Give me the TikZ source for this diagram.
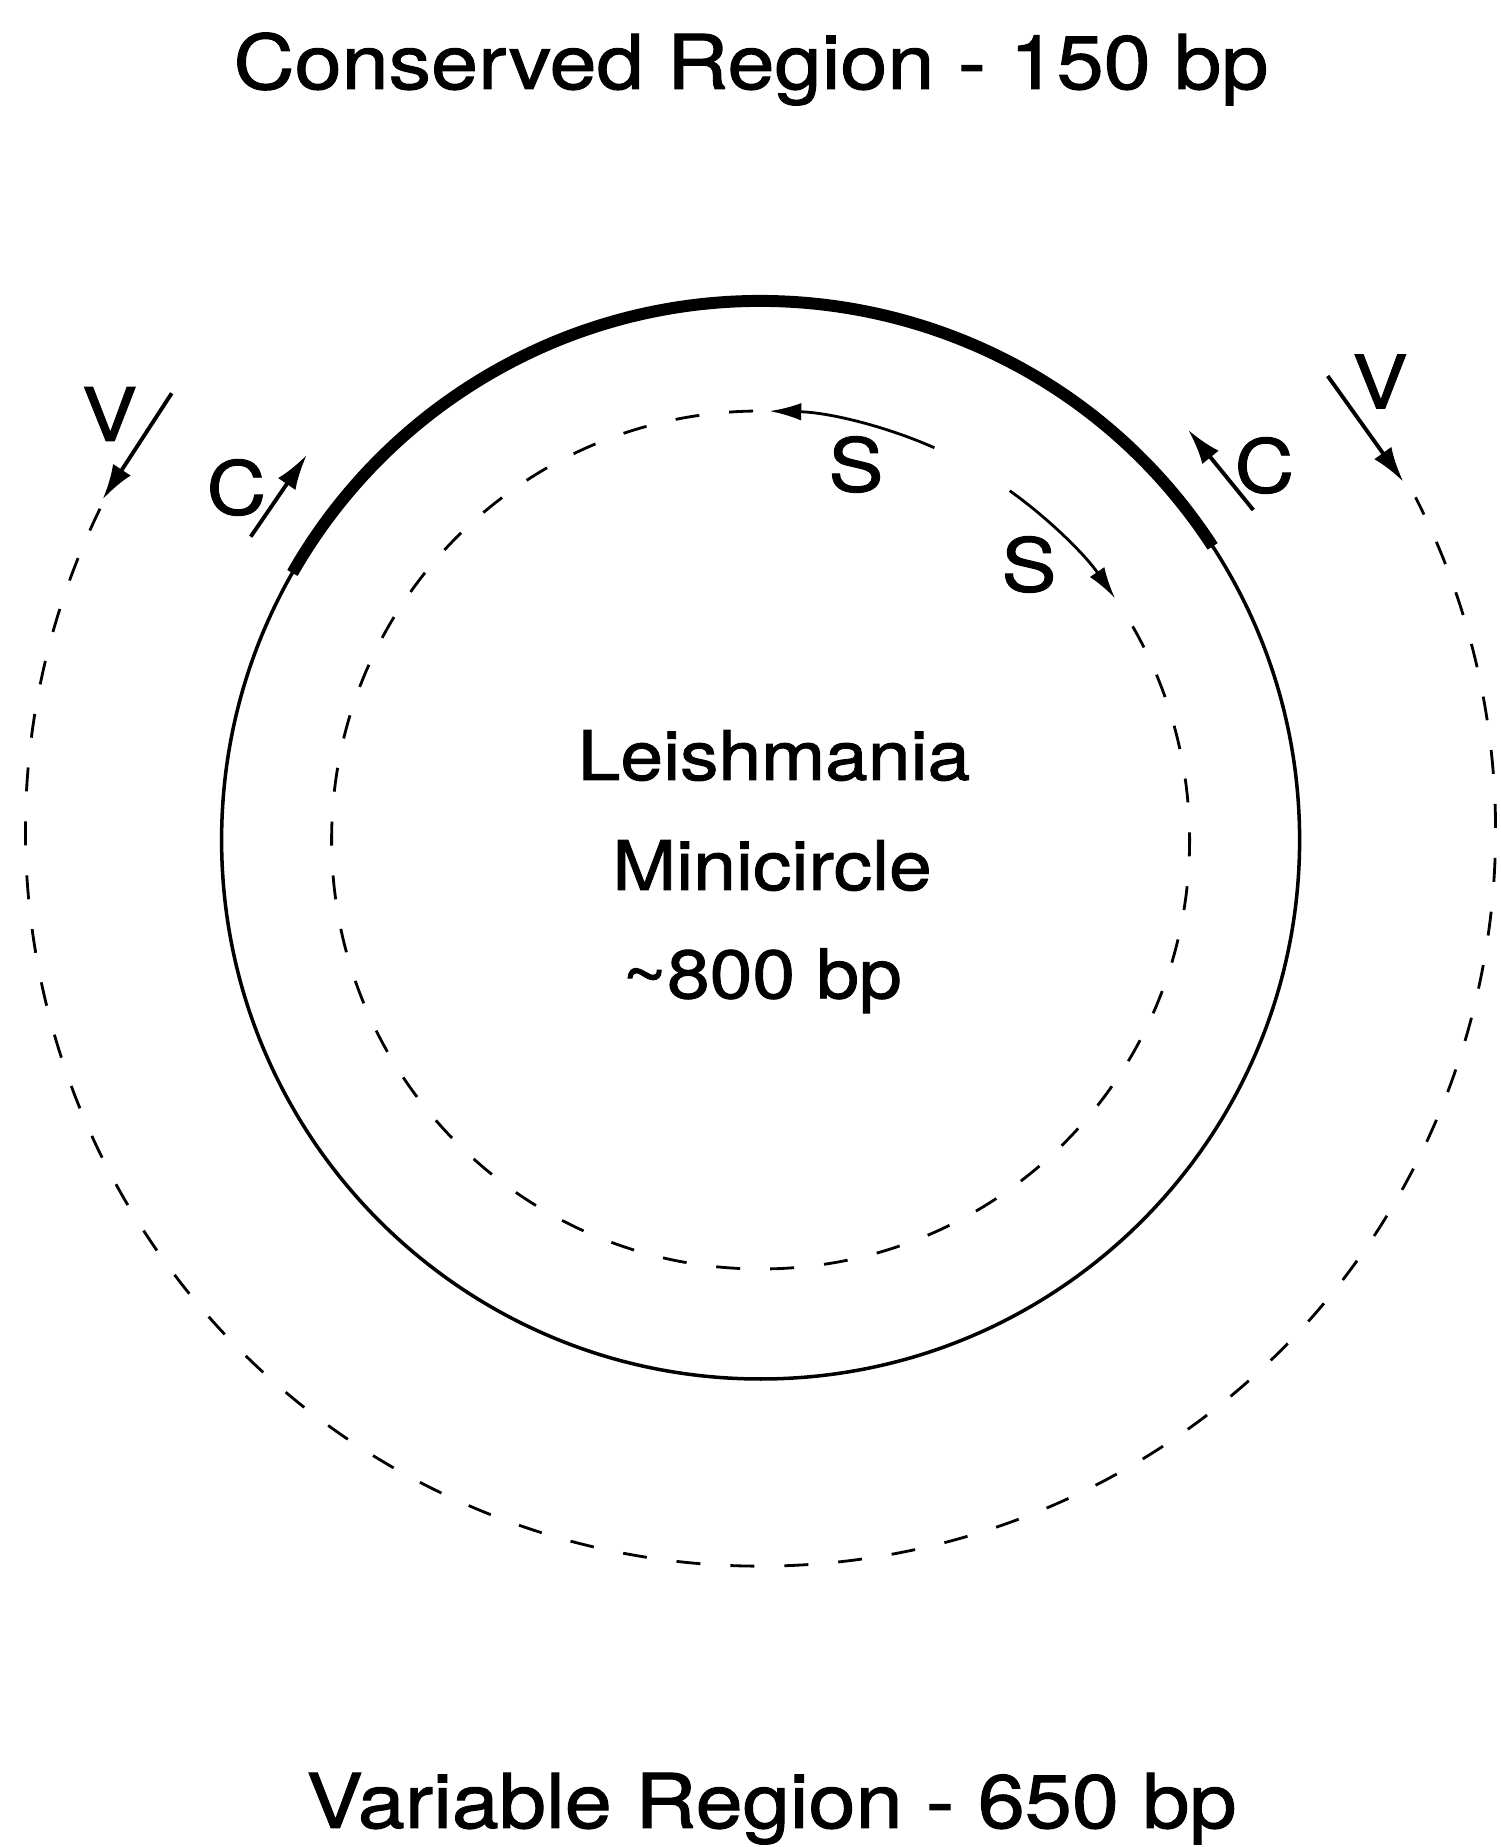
\documentclass[tikz,border=0pt]{standalone}
\usepackage{fontspec}
\setmainfont{TeX Gyre Heros}
\newfontfamily\figfont[FakeStretch=1.12, FakeBold=1.3]{TeX Gyre Heros}
\usetikzlibrary{arrows.meta, calc}

\begin{document}
\begin{tikzpicture}[
    ring/.style={line width=1pt, black},
    conserved/.style={line width=3.4pt, black},
    dashring/.style={line width=0.8pt, dash pattern=on 0.24cm off 0.3cm},
    arr/.style={-{Latex[length=10pt,width=6pt]}, line width=1.1pt},
    sarr/.style={-{Latex[length=9pt,width=5pt]}, line width=0.8pt},
    title/.style={font=\figfont\fontsize{21.5}{26}\selectfont, anchor=base},
    midtext/.style={font=\figfont\fontsize{19.5}{24}\selectfont, anchor=base},
    tag/.style={font=\figfont\fontsize{21}{25}\selectfont}
]
\useasboundingbox (0,0) rectangle (15,18.47);
\coordinate (O) at (7.606,10.07);
\coordinate (Oout) at (7.606,10.16);

% --- Minicircle ---
\draw[ring] (O) circle[radius=5.39];
\draw[conserved] ($(O)+(33:5.39)$) arc[start angle=33, end angle=150.3, radius=5.39];

% --- Strands ---
\draw[dashring] ($(O)+(91:4.29)$) arc[start angle=91, end angle=391, radius=4.29];
\draw[dashring] ($(Oout)+(154:7.35)$) arc[start angle=154, end angle=387, radius=7.35];

% --- S primers ---
\coordinate (s1a) at ($(O)+(66.1:4.29)$);
\coordinate (s2a) at ($(O)+(54.5:4.29)$);
\draw[sarr] (s1a) arc[start angle=66.1, end angle=88.8, radius=4.29];
\draw[sarr] (s2a) arc[start angle=54.5, end angle=34.3, radius=4.29];
\node[tag] (s1) at (8.56,13.825) {S};
\node[tag] (s2) at (10.29,12.825) {S};

% --- C and V primers ---
\coordinate (vlA) at (1.717,14.537); \coordinate (vlB) at (1.027,13.477);
\coordinate (clA) at (2.507,13.103); \coordinate (clB) at (3.067,13.92);
\coordinate (crA) at (12.533,13.37); \coordinate (crB) at (11.883,14.17);
\coordinate (vrA) at (13.277,14.71); \coordinate (vrB) at (14.033,13.653);
\draw[arr] (vlA) -- (vlB);
\draw[arr] (clA) -- (clB);
\draw[arr] (crA) -- (crB);
\draw[arr] (vrA) -- (vrB);
\node[tag] (vl) at (1.095,14.33) {V};
\node[tag] (cl) at (2.365,13.595) {C};
\node[tag] (cr) at (12.645,13.815) {C};
\node[tag] (vr) at (13.80,14.655) {V};

% --- Labels ---
\node[title] (cons) at (7.51,17.58) {Conserved Region - 150 bp};
\node[title] (var) at (7.715,0.19) {Variable Region - 650 bp};
\node[midtext] (leish) at (7.74,10.67) {Leishmania};
\node[midtext] (mini) at (7.72,9.57) {Minicircle};
\node[midtext] (size) at (7.62,8.487) {\textasciitilde800 bp};
\end{tikzpicture}
\end{document}
